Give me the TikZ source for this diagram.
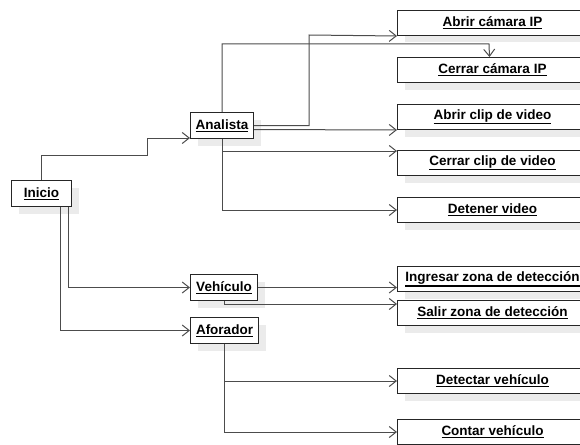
\documentclass[tikz,border=0pt]{standalone}
\usepackage{fontspec}
\setmainfont{Liberation Sans}
\newcommand\ulword[1]{\leavevmode\vtop{\hbox{#1}\kern1.3pt\hrule height 1.1pt}}
\usetikzlibrary{arrows.meta,shadows}

\begin{document}
\begin{tikzpicture}[x=1pt,y=-1pt,
    every node/.style={draw=black!85,line width=1pt,fill=white,anchor=north west,
      font=\fontsize{13.5}{16}\selectfont\bfseries,inner sep=3pt,
      drop shadow={shadow xshift=7pt,shadow yshift=-7pt,fill=black!8,opacity=1}},
    actor/.style={minimum height=26pt},
    task/.style={minimum width=190pt,minimum height=25pt},
    link/.style={draw=black!70,line width=1pt,-{Straight Barb[length=7pt,width=11pt]}}]
  \useasboundingbox (0,0) rectangle (580,444);
  \clip (0,0) rectangle (580,444);

  % actores
  \node[actor,minimum width=60pt] (inicio) at (11,180) {\ulword{Inicio}};
  \node[actor,minimum width=63pt] (analista) at (190,112) {\ulword{Analista}};
  \node[actor,minimum width=67pt] (vehiculo) at (190,274) {\ulword{Vehículo}};
  \node[actor,minimum width=68pt] (aforador) at (190,317) {\ulword{Aforador}};

  % acciones
  \node[task] (abrircam) at (397,10) {\ulword{Abrir cámara IP}};
  \node[task] (cerrarcam) at (397,57) {\ulword{Cerrar cámara IP}};
  \node[task] (abrirclip) at (397,104) {\ulword{Abrir clip de video}};
  \node[task] (cerrarclip) at (397,150) {\ulword{Cerrar clip de video}};
  \node[task] (detener) at (397,197) {\ulword{Detener video}};
  \node[task] (ingresar) at (397,266) {\ulword{Ingresar zona de detección}};
  \node[task] (salir) at (397,300) {\ulword{Salir zona de detección}};
  \node[task] (detectar) at (397,368) {\ulword{Detectar vehículo}};
  \node[task] (contar) at (397,419) {\ulword{Contar vehículo}};

  % mensajes
  \draw[link] (inicio.north) |- (147,155) |- ([yshift=1pt]analista.south west);
  \draw[link] ([xshift=-4pt]inicio.south east) |- (vehiculo.west);
  \draw[link] ([xshift=-12pt]inicio.south east) |- (aforador.west);

  \draw[link] (analista.east) -| (309,35) -- (abrircam.south west);
  \draw[link] (analista.north) |- (489,44) -- ([xshift=-3pt]cerrarcam.north);
  \draw[link] ([yshift=-4pt]analista.east) -- (abrirclip.south west);
  \draw[link] (analista.south) |- ([yshift=-1pt]cerrarclip.north west);
  \draw[link] (analista.south) |- (detener.west);

  \draw[link] (vehiculo.east) -- (vehiculo.east -| ingresar.west);
  \draw[link] (vehiculo.south) |- ([yshift=-4pt]salir.north west);

  \draw[link] (aforador.south) |- (detectar.west);
  \draw[link] (aforador.south) |- ([yshift=-13pt]contar.north west);
\end{tikzpicture}
\end{document}
